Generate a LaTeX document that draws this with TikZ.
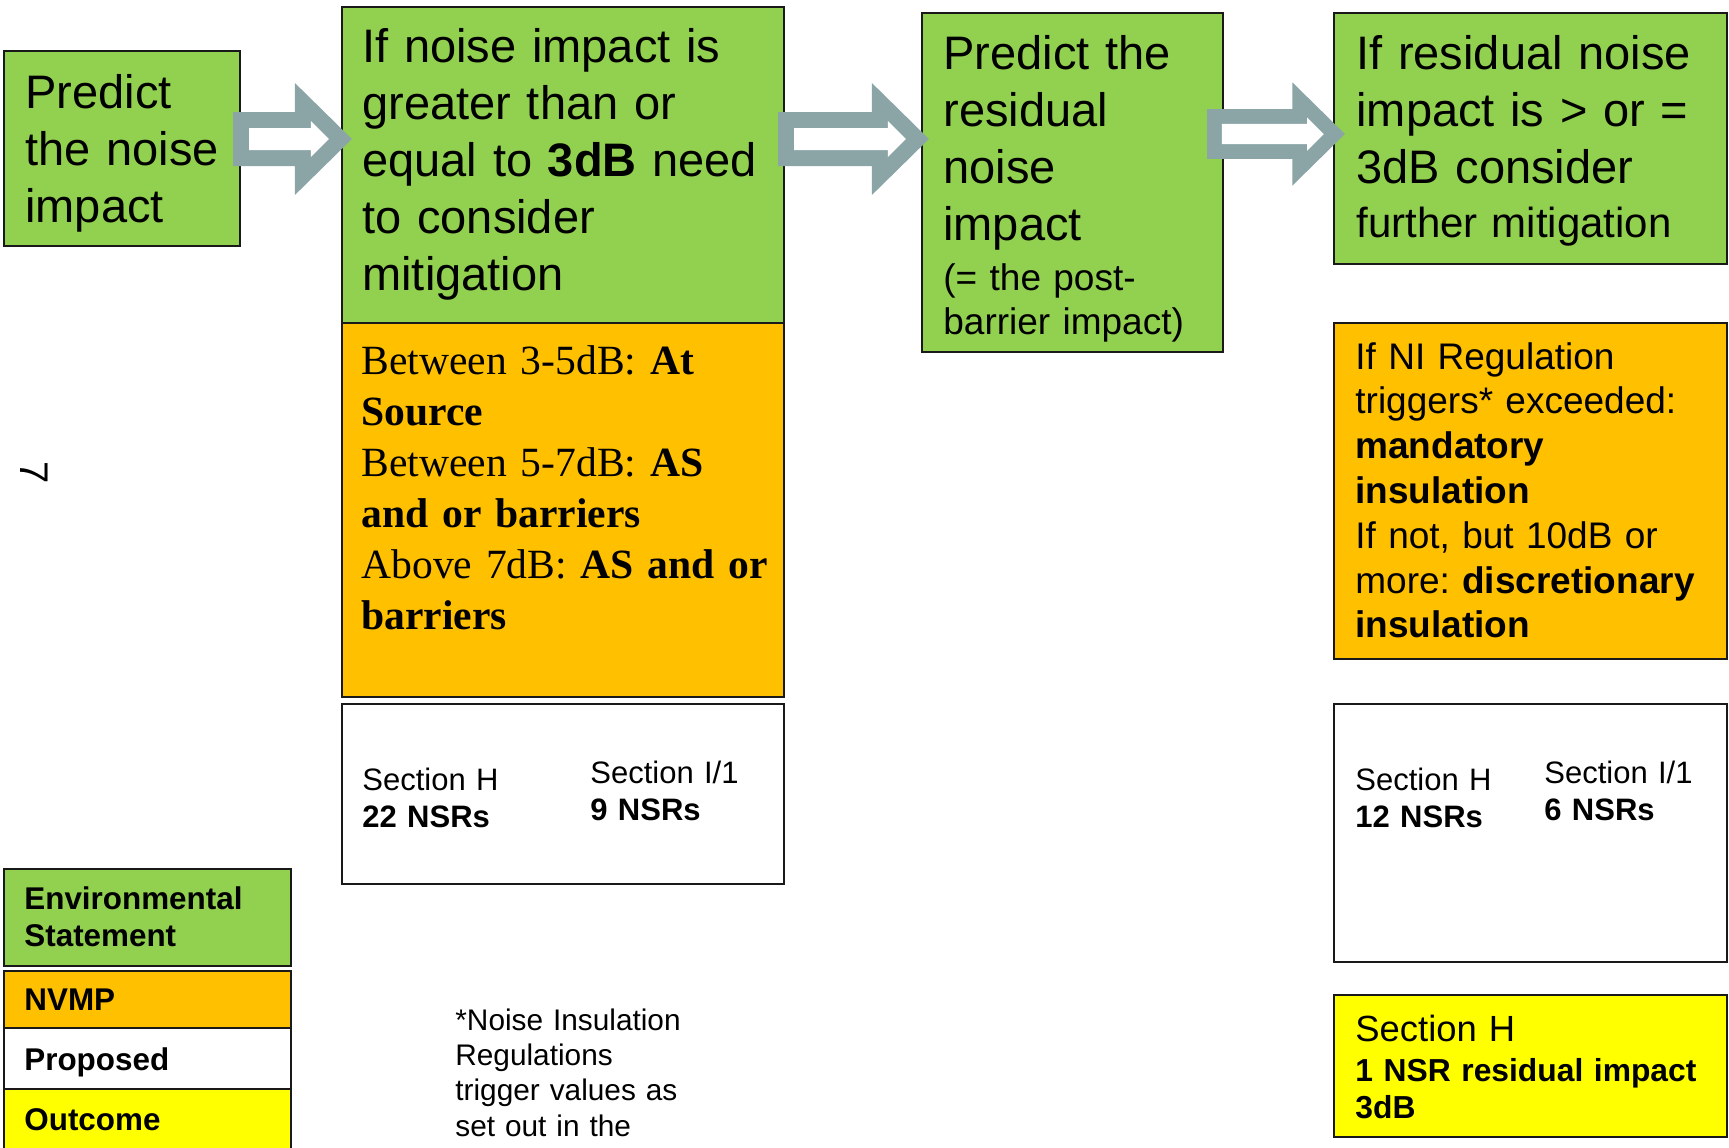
\documentclass[tikz,border=0pt]{standalone}
\usepackage{fontspec}
\setmainfont{Liberation Sans}
\newfontfamily\timesfont{Liberation Serif}
\usepackage{tikz}
\usetikzlibrary{calc, fit}
\frenchspacing

\definecolor{esgreen}{HTML}{92D050}
\definecolor{nvmporange}{HTML}{FFC000}
\definecolor{outyellow}{HTML}{FFFF00}
\definecolor{arrowgrey}{HTML}{8BA5A7}

% hollow block arrow: start, tip, scale
\newcommand{\blockarrow}[3]{%
  \fill[arrowgrey] ($(#1)+(0,-27*#3)$) -- ($(#2)+(-57*#3,-27*#3)$) -- ($(#2)+(-57*#3,-56*#3)$) -- (#2)
    -- ($(#2)+(-57*#3,56*#3)$) -- ($(#2)+(-57*#3,27*#3)$) -- ($(#1)+(0,27*#3)$) -- cycle;
  \fill[white] ($(#1)+(16*#3,-11*#3)$) -- ($(#2)+(-41*#3,-11*#3)$) -- ($(#2)+(-41*#3,-18*#3)$) -- ($(#2)+(-23*#3,0)$)
    -- ($(#2)+(-41*#3,18*#3)$) -- ($(#2)+(-41*#3,11*#3)$) -- ($(#1)+(16*#3,11*#3)$) -- cycle;
}

\begin{document}
\begin{tikzpicture}[x=0.5pt, y=-0.5pt,
    box/.style={draw=black!90, line width=1.1pt, inner sep=0pt},
    txt/.style={anchor=base west, inner sep=0pt, align=left, text width=220pt},
    big/.style={font=\fontsize{23.5}{28.5}\selectfont},
    serif/.style={font=\timesfont\fontsize{20.8}{25.5}\selectfont},
    mid/.style={font=\fontsize{18.5}{22.4}\selectfont},
    small/.style={font=\fontsize{15.5}{18.7}\selectfont},
    key/.style={font=\bfseries\fontsize{15.7}{18.7}\selectfont}]
    \useasboundingbox (0,0) rectangle (1729,1147);

    % Flow boxes
    \node[box, fill=esgreen, fit={(4,51) (240,246)}] (predict) {};
    \node[box, fill=esgreen, fit={(342,7) (784,323)}] (consider) {};
    \node[box, fill=nvmporange, fit={(342,323) (784,697)}] (options) {};
    \node[box, fit={(342,704) (784,884)}] (counta) {};
    \node[box, fill=esgreen, fit={(922,13) (1223,352)}] (residual) {};
    \node[box, fill=esgreen, fit={(1334,13) (1727,264)}] (further) {};
    \node[box, fill=nvmporange, fit={(1334,323) (1727,659)}] (insulate) {};
    \node[box, fit={(1334,704) (1727,962)}] (countb) {};
    \node[box, fill=outyellow, fit={(1334,995) (1727,1137)}] (outcome) {};

    % Texts
    \node[txt, big] (predicttext) at (25,108) {Predict\\the noise\\impact};
    \node[txt, big] (considertext) at (362,62)
        {If noise impact is\\greater than or\\equal to {\bfseries 3dB} need\\to consider\\mitigation};
    \node[txt, serif] (optionstext) at (361,374)
        {Between 3-5dB: {\bfseries At}\\{\bfseries Source}\\Between 5-7dB: {\bfseries AS}\\{\bfseries and or barriers}\\Above 7dB: {\bfseries AS and or}\\{\bfseries barriers}};
    \node[txt, big] (residualtext) at (943,69) {Predict the\\residual\\noise\\impact};
    \node[txt, font=\fontsize{18.5}{22}\selectfont] (residualnote) at (943,290) {(= the post-\\barrier impact)};
    \node[txt, big] (furthertext) at (1356,69) {If residual noise\\impact is > or =\\3dB consider};
    \node[txt, font=\fontsize{21}{25}\selectfont] (furthernote) at (1356,237) {further mitigation};
    \node[txt, mid] (insulatetext) at (1355,369)
        {If NI Regulation\\triggers* exceeded:\\{\bfseries mandatory}\\{\bfseries insulation}\\If not, but 10dB or\\more: {\bfseries discretionary}\\{\bfseries insulation}};
    \node[txt, small] (countah) at (362,790) {Section H\\{\bfseries 22 NSRs}};
    \node[txt, small] (countai) at (590,783) {Section I/1\\{\bfseries 9 NSRs}};
    \node[txt, small] (countbh) at (1355,790) {Section H\\{\bfseries 12 NSRs}};
    \node[txt, small] (countbi) at (1544,783) {Section I/1\\{\bfseries 6 NSRs}};
    \node[txt, font=\fontsize{18.2}{22}\selectfont] (outcomesec) at (1355,1041) {Section H};
    \node[txt, font=\bfseries\fontsize{15.9}{18.5}\selectfont] (outcometext) at (1355,1081) {1 NSR residual impact\\3dB};

    % Arrows
    \coordinate (rowa) at (0,139);
    \coordinate (rowb) at (0,134);
    \coordinate (a1s) at ($(predict.east |- rowa)+(-8,0)$);
    \coordinate (a1e) at ($(consider.west |- rowa)+(11,0)$);
    \coordinate (a2s) at ($(consider.east |- rowa)+(-7,0)$);
    \coordinate (a2e) at ($(residual.west |- rowa)+(8,0)$);
    \coordinate (a3s) at ($(residual.east |- rowb)+(-17,0)$);
    \coordinate (a3e) at ($(further.west |- rowb)+(12,0)$);
    \blockarrow{a1s}{a1e}{1}
    \blockarrow{a2s}{a2e}{1}
    \blockarrow{a3s}{a3e}{0.92}

    % Page number
    \node[inner sep=0pt, rotate=-90, font=\fontsize{20}{24}\selectfont] (pagenum) at (34,473) {7};

    % Legend
    \node[box, line width=1.4pt, fill=esgreen, fit={(4,869) (291,966)}] (keyes) {};
    \node[box, line width=1.4pt, fill=nvmporange, fit={(4,971) (291,1028)}] (keynvmp) {};
    \node[box, line width=1.4pt, fit={(4,1028) (291,1089)}] (keyprop) {};
    \node[box, line width=1.4pt, fill=outyellow, fit={(4,1089) (291,1160)}] (keyout) {};
    \node[txt, key] (keyestext) at (24,909) {Environmental\\Statement};
    \node[txt, key] (keynvmptext) at (24,1010) {NVMP};
    \node[txt, key] (keyproptext) at (24,1070) {Proposed};
    \node[txt, key] (keyouttext) at (24,1130) {Outcome};

    % Footnote
    \node[txt, font=\fontsize{14.9}{17.7}\selectfont] (footnote) at (455,1030)
        {*Noise Insulation\\Regulations\\trigger values as\\set out in the};
\end{tikzpicture}
\end{document}
